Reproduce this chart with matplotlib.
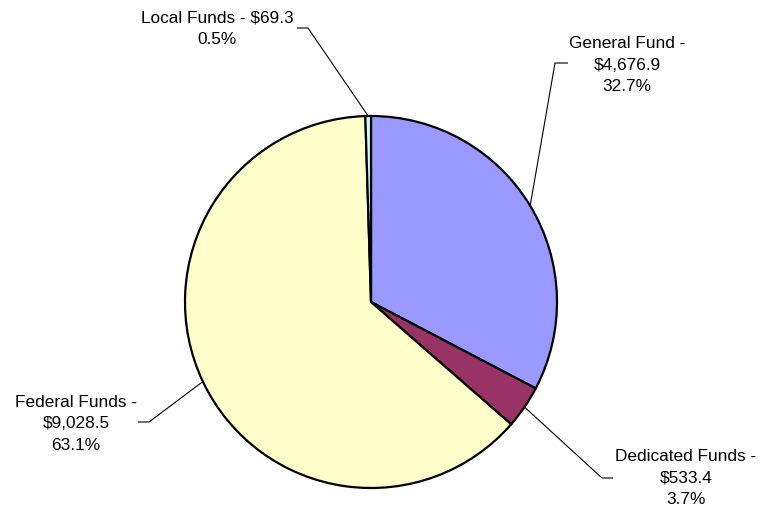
import numpy as np
import matplotlib.pyplot as plt

plt.rcParams["font.family"] = ["Liberation Sans", "DejaVu Sans"]

funds = ["General Fund", "Dedicated Funds", "Federal Funds", "Local Funds"]
amounts = [4676.9, 533.4, 9028.5, 69.3]
shares = [32.7, 3.7, 63.1, 0.5]
colors = ["#9999FF", "#993366", "#FFFFCC", "#CCFFFF"]

W, H = 761, 513
fig = plt.figure(figsize=(W / 100, H / 100), dpi=100)
ax = fig.add_axes([0, 0, 1, 1])

cx, cy, r = 371, H - 302, 186
wedges, _ = ax.pie(amounts, colors=colors, startangle=90, counterclock=False,
                   center=(cx, cy), radius=r, frame=True,
                   wedgeprops=dict(edgecolor="black", linewidth=1.6))
ax.set_xlim(0, W)
ax.set_ylim(0, H)
ax.set_aspect("equal")
ax.axis("off")

# label: (format, text centre x, text centre y, elbow x, elbow y, tail x), pixels with y down
labels = {
    "General Fund": ("General Fund -\n${:,.1f}\n{:.1f}%", 627, 65, 555, 63, 568),
    "Dedicated Funds": ("Dedicated Funds -\n${:,.1f}\n{:.1f}%", 686, 478, 602, 478, 613),
    "Federal Funds": ("Federal Funds -\n${:,.1f}\n{:.1f}%", 76, 424, 149, 422, 138),
    "Local Funds": ("Local Funds - ${:,.1f}\n{:.1f}%", 217, 29, 308, 28, 297),
}

for w, name, amt, pct in zip(wedges, funds, amounts, shares):
    fmt, tx, ty, ex, ey, hx = labels[name]
    ang = np.deg2rad((w.theta1 + w.theta2) / 2)
    px, py = cx + r * np.cos(ang), cy + r * np.sin(ang)
    ax.plot([px, ex, hx], [py, H - ey, H - ey], color="black", linewidth=0.8,
            solid_capstyle="butt")
    ax.text(tx, H - ty, fmt.format(amt, pct), ha="center", va="center",
            fontsize=12.4, linespacing=1.57)

fig.savefig("out.png", dpi=100)
